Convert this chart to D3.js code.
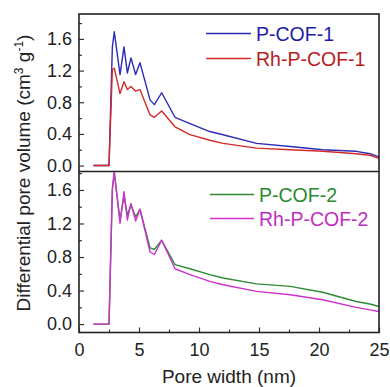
<!DOCTYPE html>
<html><head><meta charset="utf-8">
<script src="https://cdn.jsdelivr.net/npm/d3@7"></script>
<style>body{margin:0;background:#fff}svg{display:block}text{font-family:"Liberation Sans",Arial,sans-serif}</style>
</head><body><svg id="c" width="390" height="387"></svg>
<script>
const poreWidth = [1.2, 2.5, 2.78, 2.94, 3.42, 3.75, 4.03, 4.33, 4.72, 5.08, 5.92, 6.28, 6.89, 8.0, 9.25, 10.9, 12.0, 14.8, 17.6, 20.3, 23.1, 24.25, 25];
const pCOF1   = [0, 0, 1.50, 1.69, 1.15, 1.50, 1.17, 1.36, 1.15, 1.30, 0.83, 0.77, 0.92, 0.61, 0.53, 0.43, 0.39, 0.28, 0.24, 0.20, 0.18, 0.15, 0.11];
const rhPCOF1 = [0, 0, 1.21, 1.23, 0.91, 1.06, 0.96, 1.00, 0.94, 0.96, 0.64, 0.61, 0.69, 0.49, 0.39, 0.32, 0.28, 0.22, 0.20, 0.18, 0.15, 0.13, 0.09];
const pCOF2   = [0, 0, 1.60, 1.80, 1.24, 1.53, 1.30, 1.42, 1.28, 1.37, 0.91, 0.89, 1.00, 0.71, 0.66, 0.59, 0.55, 0.48, 0.45, 0.38, 0.27, 0.24, 0.21];
const rhPCOF2 = [0, 0, 1.62, 1.82, 1.20, 1.58, 1.24, 1.44, 1.23, 1.37, 0.86, 0.83, 1.00, 0.66, 0.59, 0.51, 0.47, 0.39, 0.35, 0.29, 0.20, 0.17, 0.15];
const xTicks = [0, 5, 10, 15, 20, 25];
const yTicks = [0, 0.4, 0.8, 1.2, 1.6];
const seriesNames = ["P-COF-1", "Rh-P-COF-1", "P-COF-2", "Rh-P-COF-2"];

const svg = d3.select("#c");
const L = 79, R = 379, T = 14, M = 171.5, B = 332.5;
const x = d3.scaleLinear().domain([0, 25]).range([L, R]);
const yTop = d3.scaleLinear().domain([-0.075, 1.915]).range([M, T]);
const yBot = d3.scaleLinear().domain([-0.1, 1.82]).range([B, M]);

const panels = [
  {y: yTop, series: [
    {name: seriesNames[0], vals: pCOF1, color: "#2b2bb5", text: "#1c1ca8"},
    {name: seriesNames[1], vals: rhPCOF1, color: "#d42a2a", text: "#b8201f"}], leg: [33.5, 58.5]},
  {y: yBot, series: [
    {name: seriesNames[2], vals: pCOF2, color: "#2e8b35", text: "#2a8a30"},
    {name: seriesNames[3], vals: rhPCOF2, color: "#d030d0", text: "#c02ec0"}], leg: [194.5, 218.5]}
];

const fs = 18;
panels.forEach((p, pi) => {
  const g = svg.append("g");
  p.series.forEach(s => {
    const line = d3.line().x((d, i) => x(poreWidth[i])).y(d => p.y(d));
    g.append("path").datum(s.vals).attr("d", line).attr("fill", "none")
      .attr("stroke", s.color).attr("stroke-width", 1.4).attr("stroke-linejoin", "round");
  });
  const minor = d3.range(0.2, 1.81, 0.4);
  const ax = d3.axisLeft(p.y).tickValues(yTicks).tickSize(-5).tickFormat(d3.format(".1f"));
  const ag = g.append("g").attr("transform", `translate(${L},0)`).call(ax);
  ag.select(".domain").remove();
  ag.selectAll("text").attr("font-size", fs).attr("fill", "#222").attr("x", -7);
  ag.selectAll("line").attr("stroke", "#333").attr("stroke-width", 1.2);
  const mg = g.append("g").attr("transform", `translate(${L},0)`).call(d3.axisLeft(p.y).tickValues(minor).tickSize(-3).tickFormat(""));
  mg.select(".domain").remove();
  mg.selectAll("line").attr("stroke", "#333").attr("stroke-width", 1.2);
  p.series.forEach((s, i) => {
    const ly = p.leg[i];
    const x0 = pi === 0 ? 206 : 210, x1 = pi === 0 ? 251 : 254;
    g.append("line").attr("x1", x0).attr("x2", x1).attr("y1", ly).attr("y2", ly)
      .attr("stroke", s.color).attr("stroke-width", 1.4);
    g.append("text").attr("x", x1 + 5).attr("y", ly + 7).attr("font-size", 19.5)
      .attr("fill", s.text).text(s.name);
  });
});

const xa = svg.append("g").attr("transform", `translate(0,${B})`)
  .call(d3.axisBottom(x).tickValues(xTicks).tickSize(-5));
xa.select(".domain").remove();
xa.selectAll("text").attr("font-size", fs).attr("fill", "#222").attr("y", 11);
xa.selectAll("line").attr("stroke", "#333").attr("stroke-width", 1.2);
const xm = svg.append("g").attr("transform", `translate(0,${B})`)
  .call(d3.axisBottom(x).tickValues([2.5, 7.5, 12.5, 17.5, 22.5]).tickSize(-3).tickFormat(""));
xm.select(".domain").remove();
xm.selectAll("line").attr("stroke", "#333").attr("stroke-width", 1.2);

svg.append("rect").attr("x", L).attr("y", T).attr("width", R - L).attr("height", B - T)
  .attr("fill", "none").attr("stroke", "#222").attr("stroke-width", 1.6);
svg.append("line").attr("x1", L).attr("x2", R).attr("y1", M).attr("y2", M)
  .attr("stroke", "#222").attr("stroke-width", 1.6);

svg.append("text").attr("x", x(12.5)).attr("y", 383).attr("text-anchor", "middle")
  .attr("font-size", 19).attr("fill", "#222").text("Pore width (nm)");
const yt = svg.append("text").attr("transform", `translate(30,${173}) rotate(-90)`)
  .attr("text-anchor", "middle").attr("font-size", 19).attr("fill", "#222");
yt.append("tspan").text("Differential pore volume (cm");
yt.append("tspan").attr("dy", -7).attr("font-size", 12).text("3");
yt.append("tspan").attr("dy", 7).text(" g");
yt.append("tspan").attr("dy", -7).attr("font-size", 12).text("-1");
yt.append("tspan").attr("dy", 7).text(")");
</script></body></html>
